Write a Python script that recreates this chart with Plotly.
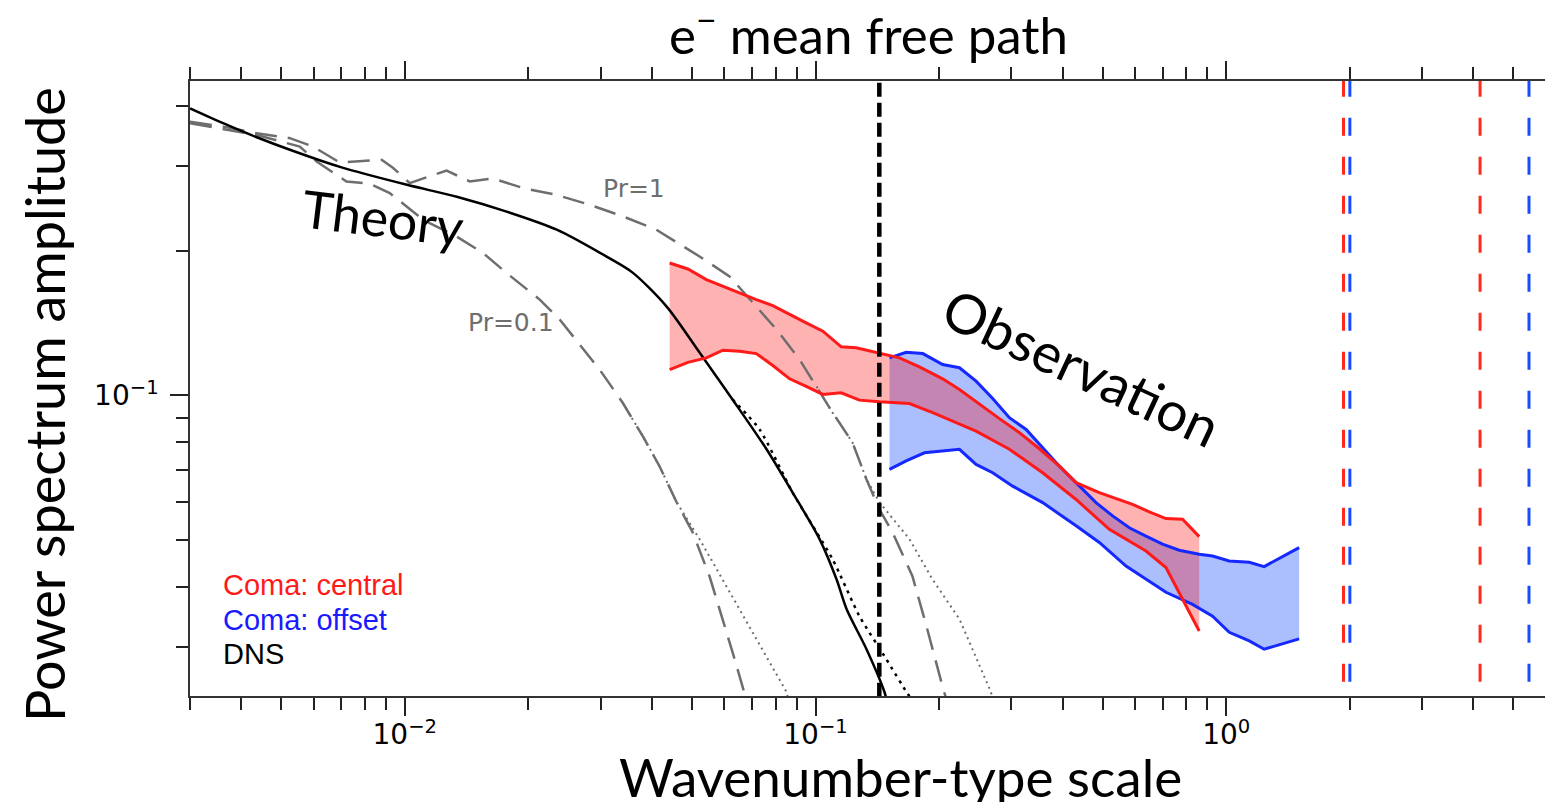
import plotly.graph_objects as go

# ---------------- data ----------------
dns_k = [0.0030, 0.00361, 0.00436, 0.00525, 0.00695, 0.01012, 0.01338, 0.0177, 0.02344,
         0.0310, 0.03587, 0.04341, 0.0522, 0.0628, 0.0760, 0.0879, 0.1023, 0.1125,
         0.1190, 0.1331, 0.1472, 0.1496]
dns_p = [0.395, 0.368, 0.344, 0.324, 0.2985, 0.274, 0.2588, 0.241, 0.2211,
         0.1943, 0.1800, 0.1530, 0.1228, 0.0981, 0.0773, 0.0629, 0.0503, 0.0415,
         0.0360, 0.0297, 0.0242, 0.0229]

dns_model_k = [0.0628, 0.0731, 0.0879, 0.1100, 0.1279, 0.1488, 0.1665, 0.170]
dns_model_p = [0.0981, 0.0850, 0.0629, 0.0457, 0.0348, 0.0283, 0.0242, 0.0236]

pr1_k = [0.0030, 0.00361, 0.00436, 0.00525, 0.00598, 0.00695, 0.00878, 0.00937, 0.01028,
         0.01264, 0.01439, 0.01640, 0.01940, 0.02339, 0.02819, 0.0340, 0.04095, 0.04754,
         0.0522, 0.06176, 0.0703, 0.0804, 0.0914, 0.1006, 0.1100, 0.1230, 0.1331,
         0.1431, 0.1539, 0.1722, 0.1862, 0.2037, 0.2072]
pr1_p = [0.3707, 0.362, 0.3508, 0.3425, 0.329, 0.3048, 0.3088, 0.2969, 0.2763,
         0.2934, 0.2784, 0.2824, 0.2698, 0.2612, 0.2490, 0.2355, 0.2211, 0.2041,
         0.1945, 0.1768, 0.156, 0.1371, 0.1188, 0.1044, 0.0922, 0.0799, 0.0669,
         0.0580, 0.0520, 0.0421, 0.0332, 0.0249, 0.0237]

pr1_model_k = [0.1006, 0.1100, 0.1230, 0.1331, 0.1431, 0.1693, 0.1926, 0.2241, 0.2652, 0.2696]
pr1_model_p = [0.1044, 0.0922, 0.0799, 0.0669, 0.0600, 0.0503, 0.0415, 0.0343, 0.0246, 0.0237]

pr01_k = [0.0030, 0.00436, 0.00555, 0.00610, 0.00721, 0.00822, 0.00919, 0.01108, 0.01336,
          0.01551, 0.01768, 0.02131, 0.02383, 0.02981, 0.0339, 0.0380, 0.04173, 0.0459,
          0.0502, 0.0552, 0.0628, 0.0672, 0.0675]
pr01_p = [0.368, 0.3479, 0.329, 0.3064, 0.2784, 0.2754, 0.2634, 0.2318, 0.2140,
          0.1977, 0.1798, 0.1582, 0.1438, 0.1132, 0.0967, 0.0822, 0.0712, 0.0600,
          0.0520, 0.0421, 0.0293, 0.0242, 0.0237]

pr01_model_k = [0.0339, 0.0380, 0.04173, 0.0459, 0.0522, 0.0607, 0.0703, 0.0850, 0.0855]
pr01_model_p = [0.0967, 0.0822, 0.0712, 0.0600, 0.0503, 0.0401, 0.0322, 0.0242, 0.0237]

central_hi_k = [0.04414, 0.0489, 0.05421, 0.0595, 0.06533, 0.07175, 0.0787, 0.0865, 0.0949,
                0.1042, 0.1155, 0.1256, 0.1431, 0.1601, 0.1791, 0.2040, 0.2241, 0.2506,
                0.2804, 0.3137, 0.3508, 0.3925, 0.4309, 0.4909, 0.5916, 0.6496, 0.7133,
                0.7828, 0.8595]
central_hi_p = [0.1885, 0.1832, 0.1741, 0.1686, 0.1638, 0.1582, 0.1537, 0.1472, 0.1415,
                0.1360, 0.1262, 0.1256, 0.1226, 0.1197, 0.1147, 0.1083, 0.1029, 0.0958,
                0.0895, 0.0837, 0.0775, 0.0713, 0.0659, 0.0628, 0.0594, 0.0573, 0.0555,
                0.0553, 0.0509]
central_lo_k = [0.04414, 0.0489, 0.05421, 0.0595, 0.06533, 0.07175, 0.0787, 0.0865, 0.0949,
                0.1042, 0.1155, 0.1279, 0.1431, 0.1601, 0.1693, 0.1929, 0.2460, 0.2965,
                0.3573, 0.4309, 0.5192, 0.6376, 0.7133, 0.8595]
central_lo_p = [0.1132, 0.1172, 0.1197, 0.1242, 0.1236, 0.1222, 0.1154, 0.1083, 0.1045,
                0.1005, 0.1013, 0.0978, 0.0970, 0.0966, 0.0962, 0.0921, 0.0843, 0.0773,
                0.0691, 0.0608, 0.0527, 0.0475, 0.0439, 0.0324]

offset_hi_k = [0.1514, 0.1662, 0.1825, 0.2040, 0.2241, 0.2460, 0.2700, 0.2965, 0.3257,
               0.3573, 0.3925, 0.4309, 0.4819, 0.5290, 0.5808, 0.6376, 0.6998, 0.7685,
               0.8595, 0.9262, 1.017, 1.138, 1.237, 1.505]
offset_hi_p = [0.1197, 0.1230, 0.1222, 0.1160, 0.1142, 0.1071, 0.0986, 0.0899, 0.0850,
               0.0779, 0.0713, 0.0659, 0.0599, 0.0562, 0.0531, 0.0510, 0.0491, 0.0477,
               0.0468, 0.0464, 0.0453, 0.0450, 0.0441, 0.0483]
offset_lo_k = [0.1514, 0.1662, 0.1842, 0.2241, 0.2460, 0.2700, 0.3020, 0.3573, 0.4309,
               0.4909, 0.5702, 0.6376, 0.7133, 0.8279, 0.9262, 1.017, 1.138, 1.237, 1.505]
offset_lo_p = [0.0702, 0.0731, 0.0760, 0.0773, 0.0719, 0.0691, 0.0648, 0.0599, 0.0536,
               0.0495, 0.0442, 0.0415, 0.0390, 0.0368, 0.0348, 0.0322, 0.0309, 0.0297,
               0.0312]

mfp_dns = 0.143
mfp_central = [1.93, 4.15]
mfp_offset = [2.0, 5.46]

x_major = [0.01, 0.1, 1.0]
x_major_text = ["10<sup>\u22122</sup>", "10<sup>\u22121</sup>", "10<sup>0</sup>"]
x_minor = [m * d for d in (0.001, 0.01, 0.1, 1.0) for m in range(2, 10)]
y_major = [0.1]
y_major_text = ["10<sup>\u22121</sup>"]
y_minor = [m * d for d in (0.01, 0.1) for m in range(2, 10)]

X_RANGE = [-2.523, 0.7786]   # log10
Y_RANGE = [-1.6245, -0.3465]  # log10
Y_SPAN = [0.01, 1.0]

GRAY = "#6e6e6e"
RED = "#ff1a1a"
BLUE = "#1428ff"

# page geometry (the html body adds an 8px margin)
BODY = 8
PLOT_L, PLOT_R, PLOT_T, PLOT_B = 190, 1546, 81, 696
FIG_W, FIG_H = 1553 - BODY, 802 - BODY

fig = go.Figure()

# filled bands: offset first, central on top
fig.add_trace(go.Scatter(x=offset_hi_k + offset_lo_k[::-1], y=offset_hi_p + offset_lo_p[::-1],
                         fill="toself", fillcolor="rgba(0,60,255,0.33)", line=dict(width=0),
                         mode="lines", hoverinfo="skip"))
fig.add_trace(go.Scatter(x=central_hi_k + central_lo_k[::-1], y=central_hi_p + central_lo_p[::-1],
                         fill="toself", fillcolor="rgba(255,0,0,0.30)", line=dict(width=0),
                         mode="lines", hoverinfo="skip"))

# theory curves
fig.add_trace(go.Scatter(x=pr01_model_k, y=pr01_model_p, mode="lines",
                         line=dict(color=GRAY, width=2, dash="2px,4px")))
fig.add_trace(go.Scatter(x=pr1_model_k, y=pr1_model_p, mode="lines",
                         line=dict(color=GRAY, width=2, dash="2px,4px")))
fig.add_trace(go.Scatter(x=dns_model_k, y=dns_model_p, mode="lines",
                         line=dict(color="black", width=2.5, dash="3px,5px",
                                   shape="spline", smoothing=0.6)))
fig.add_trace(go.Scatter(x=pr01_k, y=pr01_p, mode="lines",
                         line=dict(color=GRAY, width=2.5, dash="22px,11px")))
fig.add_trace(go.Scatter(x=pr1_k, y=pr1_p, mode="lines",
                         line=dict(color=GRAY, width=2.5, dash="22px,11px")))
fig.add_trace(go.Scatter(x=dns_k, y=dns_p, mode="lines",
                         line=dict(color="black", width=2.5, shape="spline", smoothing=0.8)))

# observation lines
for xs, ys, c in [(offset_hi_k, offset_hi_p, BLUE), (offset_lo_k, offset_lo_p, BLUE),
                  (central_hi_k, central_hi_p, RED), (central_lo_k, central_lo_p, RED)]:
    fig.add_trace(go.Scatter(x=xs, y=ys, mode="lines", line=dict(color=c, width=3)))

# mean free path vertical lines
fig.add_trace(go.Scatter(x=[mfp_dns, mfp_dns], y=Y_SPAN, mode="lines",
                         line=dict(color="black", width=4.5, dash="14px,6px")))
for v in mfp_central:
    fig.add_trace(go.Scatter(x=[v, v], y=Y_SPAN, mode="lines",
                             line=dict(color="#ff2a1a", width=3, dash="18px,21px")))
for v in mfp_offset:
    fig.add_trace(go.Scatter(x=[v, v], y=Y_SPAN, mode="lines",
                             line=dict(color="#1a4cff", width=3, dash="18px,21px")))

axis_common = dict(type="log", showgrid=False, zeroline=False, showline=True,
                   linecolor="#333333", linewidth=1.5, mirror="allticks",
                   ticks="outside", ticklen=18, tickwidth=1.5, tickcolor="#222222",
                   tickfont=dict(family="DejaVu Sans", size=28, color="black"))
minor_common = dict(tickmode="array", ticks="outside", ticklen=12,
                    tickwidth=1.5, tickcolor="#222222")

fig.update_layout(
    width=FIG_W, height=FIG_H,
    margin=dict(l=PLOT_L - BODY, r=FIG_W + BODY - PLOT_R, t=PLOT_T - BODY,
                b=FIG_H + BODY - PLOT_B, pad=0, autoexpand=False),
    paper_bgcolor="white", plot_bgcolor="white",
    showlegend=False,
    xaxis=dict(range=X_RANGE, tickmode="array", tickvals=x_major, ticktext=x_major_text,
               ticklabelstandoff=-5, minor=dict(tickvals=x_minor, **minor_common),
               **axis_common),
    yaxis=dict(range=Y_RANGE, tickmode="array", tickvals=y_major, ticktext=y_major_text,
               ticklabelstandoff=6, minor=dict(tickvals=y_minor, **minor_common),
               **axis_common),
)

ann = []
def paper(px, py):
    return (px - PLOT_L) / (PLOT_R - PLOT_L), (PLOT_B - py) / (PLOT_B - PLOT_T)

def add_text(px, py, text, size, color="black", family="Lato", angle=0, xanchor="center"):
    x, y = paper(px, py)
    ann.append(dict(x=x, y=y, xref="paper", yref="paper", text=text, showarrow=False,
                    font=dict(family=family, size=size, color=color), textangle=angle,
                    xanchor=xanchor, yanchor="middle"))

add_text(868, 31, "e<sup>\u2212</sup> mean free path", 51)
add_text(900, 776, "Wavenumber-type scale", 53)
add_text(44, 405, "Power spectrum amplitude", 54, angle=-90)
add_text(383, 217, "Theory", 52, angle=7)
add_text(1082, 367, "Observation", 55, angle=25)
add_text(634, 188, "Pr=1", 25, color=GRAY, family="DejaVu Sans")
add_text(511, 322, "Pr=0.1", 25, color=GRAY, family="DejaVu Sans")
add_text(221, 585, "Coma: central", 29, color="#ff1a1a", family="Liberation Sans", xanchor="left")
add_text(221, 620, "Coma: offset", 29, color="#1a1aff", family="Liberation Sans", xanchor="left")
add_text(221, 654, "DNS", 29, color="black", family="Liberation Sans", xanchor="left")
fig.update_layout(annotations=ann)

fig.write_html("out.html")
